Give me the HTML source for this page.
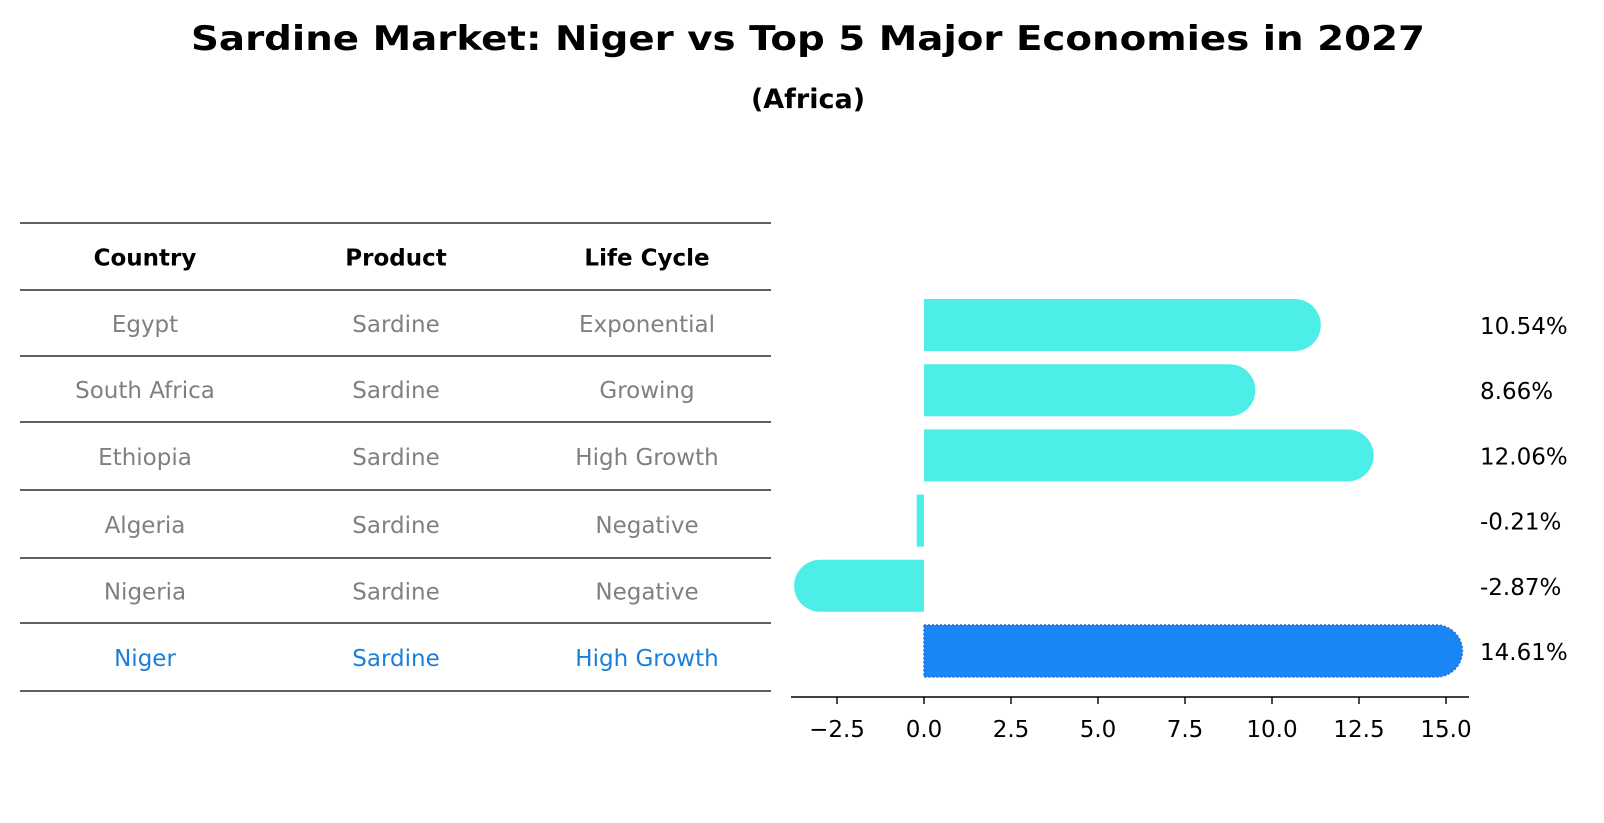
<!DOCTYPE html>
<html><head><meta charset="utf-8"><style>
html,body{margin:0;padding:0;background:#fff;}
svg{display:block;font-family:"DejaVu Sans","Liberation Sans",sans-serif;}
</style></head><body>
<svg id="chart" width="1604" height="823" viewBox="0 0 1604 823">
<text x="808" y="50" text-anchor="middle" font-size="34" font-weight="bold" textLength="1234" lengthAdjust="spacingAndGlyphs">Sardine Market: Niger vs Top 5 Major Economies in 2027</text>
<text x="808" y="108" text-anchor="middle" font-size="27" font-weight="bold">(Africa)</text>
<g id="table"></g>
<g id="bars"></g>
</svg>
<script>
const countries = ["Egypt","South Africa","Ethiopia","Algeria","Nigeria","Niger"];
const products = ["Sardine","Sardine","Sardine","Sardine","Sardine","Sardine"];
const lifeCycles = ["Exponential","Growing","High Growth","Negative","Negative","High Growth"];
const growthValues = [10.54, 8.66, 12.06, -0.21, -2.87, 14.61];
const tickValues = [-2.5, 0, 2.5, 5, 7.5, 10, 12.5, 15];
const tickLabels = ["\u22122.5","0.0","2.5","5.0","7.5","10.0","12.5","15.0"];

const NS = "http://www.w3.org/2000/svg";
function mk(tag, attrs, parent){
  const e = document.createElementNS(NS, tag);
  for (const k in attrs) e.setAttribute(k, attrs[k]);
  parent.appendChild(e); return e;
}
// table
const tbl = document.getElementById('table');
const lineYs = [223,290,356,422,490,558,623,691];
const colX = [145,396,647];
lineYs.forEach((y,i)=>{
  const l = mk('line',{x1:20,x2:771,y1:y,y2:y,stroke:'#000','stroke-width':1.2},tbl);
  
  
});
const headers = ["Country","Product","Life Cycle"];
headers.forEach((h,c)=>{
  const t = mk('text',{x:colX[c],y:(lineYs[0]+lineYs[1])/2+9,'text-anchor':'middle','font-size':23,'font-weight':'bold',fill:'#000'},tbl);
  t.textContent = h;
  
  
});
countries.forEach((cn,r)=>{
  const yc = (lineYs[r+1]+lineYs[r+2])/2+9;
  const col = r===countries.length-1 ? '#1a7fd9' : '#808080';
  [cn, products[r], lifeCycles[r]].forEach((v,c)=>{
    const t = mk('text',{x:colX[c],y:yc,'text-anchor':'middle','font-size':23,fill:col},tbl);
    t.textContent = v;
    
    
  });
});
// bars
const g = document.getElementById('bars');
const x0 = 924, pxPerUnit = 34.8;
function xs(v){ return x0 + v*pxPerUnit; }
const rowY0 = 325, rowStep = 65.2, barH = 52, pad = 30, rad = 26;
growthValues.forEach((v,i)=>{
  const yc = rowY0 + i*rowStep;
  const top = yc - barH/2, bot = yc + barH/2;
  const isNiger = i===growthValues.length-1;
  const fill = isNiger ? '#1a86f5' : '#4deee8';
  const xv = xs(v);
  let d;
  if (Math.abs(v) < 1) {
    d = `M${Math.min(x0,xv)},${top}H${Math.max(x0,xv)}V${bot}H${Math.min(x0,xv)}Z`;
  } else if (v > 0) {
    const xe = xv + pad;
    d = `M${x0},${top}H${xe-rad}A${rad},${rad} 0 0 1 ${xe},${top+rad}V${bot-rad}A${rad},${rad} 0 0 1 ${xe-rad},${bot}H${x0}Z`;
  } else {
    const xe = xv - pad;
    d = `M${x0},${top}H${xe+rad}A${rad},${rad} 0 0 0 ${xe},${top+rad}V${bot-rad}A${rad},${rad} 0 0 0 ${xe+rad},${bot}H${x0}Z`;
  }
  const attrs = {d:d, fill:fill};
  if (isNiger){ attrs.stroke='#2a6fd0'; attrs['stroke-width']=1.5; attrs['stroke-dasharray']='2,2'; }
  const p = mk('path',attrs,g);
  
  
  const t = mk('text',{x:1480,y:yc+9,'font-size':23,fill:'#000'},g);
  t.textContent = v.toFixed(2)+'%';
  
  
});
// axis
const axisY = 697;
const ax = mk('line',{x1:791,x2:1469,y1:axisY,y2:axisY,stroke:'#000','stroke-width':1.6},g);


tickValues.forEach((tv,i)=>{
  const x = xs(tv);
  const tk = mk('line',{x1:x,x2:x,y1:axisY,y2:axisY+7,stroke:'#000','stroke-width':1.4},g);
  
  
  const t = mk('text',{x:x,y:737,'text-anchor':'middle','font-size':23,fill:'#000'},g);
  t.textContent = tickLabels[i];
  
  
});
</script>
</body></html>
